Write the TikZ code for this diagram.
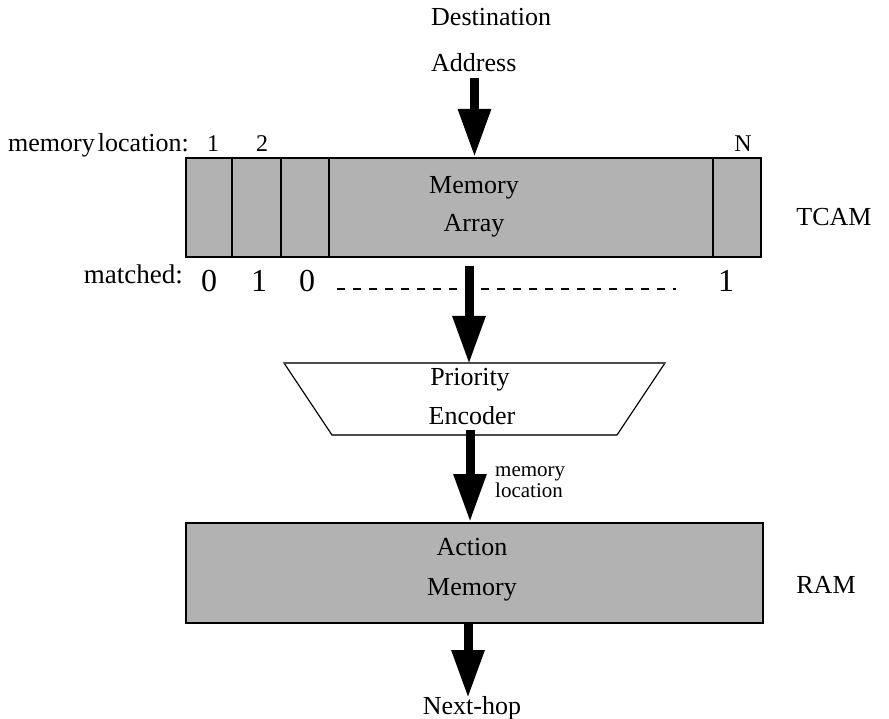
\documentclass[tikz,border=0pt]{standalone}
\usepackage{fontspec}
\setmainfont{Liberation Serif}
\usetikzlibrary{arrows.meta}
\begin{document}
\begin{tikzpicture}[x=1pt,y=-1pt,
  lbl/.style={inner sep=0pt,font=\fontsize{26}{26}\selectfont},
  sml/.style={inner sep=0pt,font=\fontsize{24}{24}\selectfont},
  tiny/.style={inner sep=0pt,font=\fontsize{21}{21}\selectfont},
  dig/.style={inner sep=0pt,font=\fontsize{32}{32}\selectfont},
  greybox/.style={draw=black,line width=2.2pt,fill=black!30,inner sep=0pt},
  bigarrow/.style={line width=9pt,-{Triangle[width=31pt,length=48pt]}}]
\useasboundingbox (0,0) rectangle (889,719);
% TCAM box
\node[greybox,minimum width=575pt,minimum height=99pt,anchor=north west] (tcam) at (185,157) {};
\draw[line width=1.4pt] (232,157) -- (232,256) (281,157) -- (281,256) (329,157) -- (329,256) (713,157) -- (713,256);
\node[lbl] (mem) at (474,188) {Memory};
\node[lbl] (arr) at (474,226) {Array};
\node[lbl] (tcamlbl) at (834,217) {TCAM};
% labels top
\node[lbl,anchor=base west] (dest) at (431,26) {Destination};
\node[lbl,anchor=base west] (addr) at (431,72) {Address};
\node[lbl,anchor=base west] (ml) at (8,152) {memory\hspace{0.12em}location:};
\node[sml,anchor=base] (l1) at (213,152) {1};
\node[sml,anchor=base] (l2) at (262,152) {2};
\node[sml,anchor=base] (lN) at (743,152) {N};
% matched
\node[lbl,anchor=base east,font=\fontsize{27}{27}\selectfont] (mt) at (183,284) {matched:};
\node[dig,anchor=base] (m0) at (209,292) {0};
\node[dig,anchor=base] (m1) at (259,292) {1};
\node[dig,anchor=base] (m2) at (307,292) {0};
\node[dig,anchor=base] (mN) at (726,292) {1};
\coordinate (dl) at (337,289);
\coordinate (dr) at (676,289);
\draw[line width=1.3pt,dash pattern=on 8pt off 8pt] (dl) -- (dr);
% priority encoder
\coordinate (pt1) at (284,363);
\coordinate (pt2) at (665,363);
\coordinate (pb2) at (617,435);
\coordinate (pb1) at (332,435);
\draw[line width=1.2pt,fill=white] (pt1) -- (pt2) -- (pb2) -- (pb1) -- cycle;
\draw[line width=2pt,black!70] (pt1) -- (pt2) (pb1) -- (pb2);
\node[lbl] (pri) at (470,380) {Priority};
\node[lbl] (enc) at (472,416) {Encoder};
% RAM
\node[greybox,minimum width=577pt,minimum height=100pt,anchor=north west] (ram) at (185,522) {};
\node[lbl] (act) at (472,547) {Action};
\node[lbl] (amem) at (472,590) {Memory};
\node[lbl] (ramlbl) at (826,585) {RAM};
\node[tiny,anchor=base west] (mloc1) at (495,476) {memory};
\node[tiny,anchor=base west] (mloc2) at (495,497) {location};
% arrows
\coordinate (a1s) at (474.5,78);
\coordinate (a1e) at (474.5,157);
\coordinate (a2s) at (469,266);
\coordinate (a2e) at (469,364);
\coordinate (a3s) at (470,430);
\coordinate (a3e) at (470,522);
\coordinate (a4s) at (468,622);
\coordinate (a4e) at (468,698);
\node[lbl,anchor=base] (next) at (472,714) {Next-hop};
\draw[bigarrow] (a1s) -- (a1e);
\draw[bigarrow] (a2s) -- (a2e);
\draw[bigarrow] (a3s) -- (a3e);
\draw[bigarrow] (a4s) -- (a4e);
\end{tikzpicture}
\end{document}
